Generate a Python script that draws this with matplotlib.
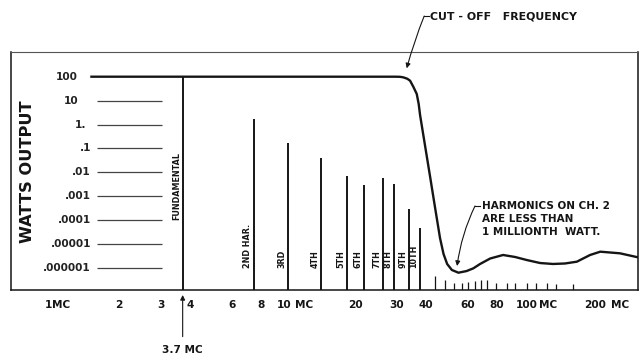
import matplotlib
matplotlib.use("Agg")
import matplotlib.pyplot as plt
from matplotlib.ticker import NullLocator
from matplotlib.transforms import ScaledTranslation, blended_transform_factory

# ---------------- data ----------------
# response curve of the low-pass filter (MHz, watts)
curve_freq = [1.51, 29.6, 31.0, 32.0, 33.3, 34.2, 35.3, 36.5, 37.2, 37.7, 39.6,
              41.6, 43.6, 45.8, 47.4, 49.1, 51.4, 54.8, 59.4, 63.4, 67.7, 74.7,
              84.7, 95.3, 106.7, 121.6, 138, 155, 174, 198, 218.7, 265, 316]
curve_watts = [100, 100, 99, 94, 82, 68, 38, 18.9, 7.2, 2.5, 0.126,
               6.35e-3, 3.53e-4, 1.78e-5, 3.82e-6, 1.46e-6, 8.2e-7, 6.3e-7,
               7.4e-7, 9.6e-7, 1.46e-6, 2.47e-6, 3.47e-6, 2.86e-6, 2.14e-6,
               1.6e-6, 1.46e-6, 1.53e-6, 1.82e-6, 3.47e-6, 4.77e-6, 4.08e-6,
               2.77e-6]

# fundamental + harmonics (MHz, watts)
harm_labels = ["FUNDAMENTAL", "2ND HAR.", "3RD", "4TH", "5TH", "6TH", "7TH",
               "8TH", "9TH", "10TH"]
harm_freq = [3.72, 7.46, 10.4, 14.4, 18.5, 21.9, 26.3, 29.3, 33.9, 37.7]
harm_watts = [100, 1.65, 0.173, 0.0385, 0.0070, 0.00286, 0.0056, 0.00315,
              0.000283, 4.8e-5]

# small spurious harmonics above cut-off (MHz, watts)
spur_freq = [43.6, 48.1, 52.5, 56.8, 60.2, 64.5, 68.4, 72.5, 79.1, 88.1, 95.3,
             107, 117, 130, 142, 168]
spur_watts = [4.6e-7, 3.0e-7, 2.4e-7, 2.4e-7, 2.5e-7, 2.7e-7, 3.0e-7, 3.0e-7,
              2.4e-7, 2.4e-7, 2.4e-7, 2.4e-7, 2.4e-7, 2.3e-7, 2.2e-7, 2.2e-7]

# axis labels
x_tick_vals = [1, 2, 3, 4, 6, 8, 10, 20, 30, 40, 60, 80, 100, 200]
x_tick_text = ["1", "2", "3", "4", "6", "8", "10", "20", "30", "40", "60",
               "80", "100", "200"]
x_tick_suffix = {1: "MC", 10: "MC", 100: "MC", 200: "MC"}
y_level_vals = [100, 10, 1, 0.1, 0.01, 0.001, 0.0001, 0.00001, 0.000001]
y_level_text = ["100", "10", "1.", ".1", ".01", ".001", ".0001", ".00001",
                ".000001"]

# ---------------- style / layout ----------------
INK = "#151515"
plt.rcParams["font.family"] = ["DejaVu Sans"]
plt.rcParams["font.weight"] = "bold"

fig = plt.figure(figsize=(6.42, 3.56), dpi=100)
ax = fig.add_axes([11 / 642, 66 / 356, 627 / 642, 238 / 356])
ax.set_xscale("log")
ax.set_yscale("log")
ax.set_xlim(0.697, 316)
ax.set_ylim(1.19e-7, 1080)
for a in (ax.xaxis, ax.yaxis):
    a.set_major_locator(NullLocator())
    a.set_minor_locator(NullLocator())
for s in ax.spines.values():
    s.set_color(INK)
    s.set_linewidth(1.1)
ax.spines["top"].set_color("#555555")
ax.spines["top"].set_linewidth(0.8)

ybase = ax.get_ylim()[0]

# harmonics
ax.vlines(harm_freq, ybase, harm_watts, color=INK, lw=1.4, zorder=3)
ax.vlines(spur_freq, ybase, spur_watts, color=INK, lw=0.9, zorder=3)
# main response curve
ax.plot(curve_freq, curve_watts, color=INK, lw=1.7, solid_joinstyle="round",
        solid_capstyle="butt", zorder=4)

# harmonic labels (rotated, just left of each line)
lab_trans = ax.transData + ScaledTranslation(-6 / 100, 0, fig.dpi_scale_trans)
for i, (f, t) in enumerate(zip(harm_freq, harm_labels)):
    ax.text(f, 1e-4 if i == 0 else 1e-6, t, rotation=90, ha="center",
            va="bottom", fontsize=5.8, fontweight="bold", color=INK,
            transform=lab_trans)

# ladder of watt levels on the left
bt = blended_transform_factory(ax.transAxes, ax.transData)
label_right = {"100": 0.107, "10": 0.107, "1.": 0.12}
for v, t in zip(y_level_vals, y_level_text):
    ax.text(label_right.get(t, 0.1276), v, t, transform=bt, ha="right",
            va="center", fontsize=7.6, fontweight="bold", color="#222222")
ax.hlines(y_level_vals[1:], 0.137, 0.241, transform=bt, color="#444444",
          lw=0.9)

# y title
fig.text(28 / 642, 1 - 171.5 / 356, "WATTS OUTPUT", rotation=90, ha="center",
         va="center", fontsize=11.7, fontweight="bold", color=INK)

# x labels
xt = blended_transform_factory(ax.transData, ax.transAxes)
num_shift = {100: 5, 200: 3}
gaps = {1: 0.5, 10: 2.5, 100: 0.5, 200: 3.5}
for v, t in zip(x_tick_vals, x_tick_text):
    num = ax.annotate(t, xy=(v, -0.065), xycoords=xt,
                      xytext=(num_shift.get(v, 0), 0), textcoords="offset points",
                      ha="center", va="center", fontsize=7.6,
                      fontweight="bold", color=INK, annotation_clip=False)
    if v in x_tick_suffix:
        ax.annotate(x_tick_suffix[v], xy=(1, 0), xycoords=num,
                    xytext=(gaps[v], 0), textcoords="offset points",
                    ha="left", va="bottom", fontsize=7.6, fontweight="bold",
                    color=INK, annotation_clip=False)

arrow_kw = dict(arrowstyle="-|>", color=INK, lw=0.8, mutation_scale=7,
                shrinkA=0, shrinkB=0)

# 3.7 MC arrow
ax.annotate("3.7 MC", xy=(3.72, -0.021), xycoords=xt, xytext=(3.72, -0.252),
            textcoords=xt, ha="center", va="center", fontsize=7.6,
            fontweight="bold", color=INK, annotation_clip=False,
            arrowprops=dict(arrow_kw, shrinkA=4))

# cut-off frequency note
ax.text(0.668, 1.151, "CUT - OFF   FREQUENCY", transform=ax.transAxes,
        ha="left", va="center", fontsize=7.9, fontweight="bold", color=INK,
        clip_on=False)
ax.plot([0.659, 0.666], [1.151, 1.151], transform=ax.transAxes, color=INK,
        lw=0.8, clip_on=False)
ax.annotate("", xy=(33.1, 224), xycoords="data", xytext=(0.659, 1.151),
            textcoords="axes fraction", annotation_clip=False,
            arrowprops=dict(arrow_kw, connectionstyle="arc3,rad=0.03"))

# harmonics note
ax.text(0.7507, 0.233, "HARMONICS ON CH. 2\nARE LESS THAN\n1 MILLIONTH  WATT.",
        transform=ax.transAxes, ha="left", va="baseline", fontsize=7.5,
        fontweight="bold", color=INK, linespacing=1.35)
ax.plot([0.740, 0.748], [0.353, 0.353], transform=ax.transAxes, color=INK,
        lw=0.8)
ax.annotate("", xy=(54.1, 1.2e-6), xycoords="data", xytext=(0.740, 0.353),
            textcoords="axes fraction",
            arrowprops=dict(arrow_kw, connectionstyle="arc3,rad=0.08"))

fig.savefig("out.png", dpi=100)
